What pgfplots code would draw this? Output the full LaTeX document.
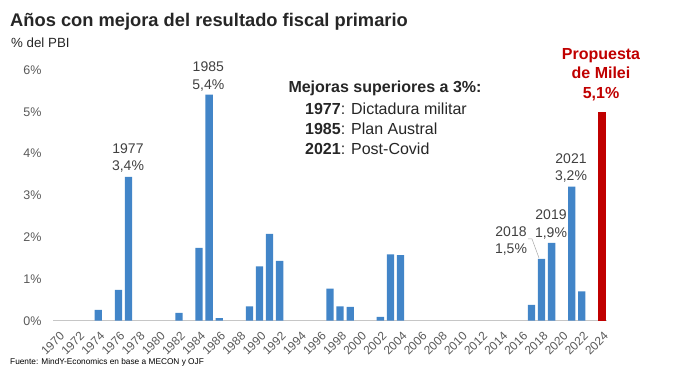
\documentclass[border=0pt]{standalone}
\usepackage{pgfplots}
\pgfplotsset{compat=1.18}
\usepackage{fontspec}
\setmainfont{Liberation Sans}
\definecolor{barblue}{RGB}{66,133,200}
\definecolor{barred}{RGB}{192,0,0}
\definecolor{txt}{HTML}{262626}
\definecolor{lbl}{HTML}{404040}
\definecolor{tick}{HTML}{595959}
\newcommand{\fs}[1]{\fontsize{#1bp}{#1bp}\selectfont}
\begin{document}
\begin{tikzpicture}
\path[use as bounding box] (0,0) rectangle (680bp,370bp);
\begin{axis}[
  at={(53bp,49.3bp)}, anchor=south west,
  scale only axis, width=554bp, height=250.7bp,
  xmin=1969.5, xmax=2024.5, ymin=0, ymax=6,
  ybar, clip=false,
  axis x line*=bottom, axis y line*=left,
  x axis line style={draw=gray!45, line width=0.8pt},
  y axis line style={draw=none},
  major tick length=0pt,
  xtick={1970,1972,...,2024},
  ytick={0,1,...,6},
  yticklabels={0\%,1\%,2\%,3\%,4\%,5\%,6\%},
  /pgf/number format/1000 sep={},
  /pgf/number format/assume math mode=true,
  xticklabel style={font=\fs{12}, text=tick, inner sep=0pt, xshift=4.2bp, yshift=-13.3bp, rotate=45, anchor=east},
  yticklabel style={font=\fs{12.5}, text=tick, inner sep=0pt, anchor=east, xshift=-11.3bp},
]
\addplot[fill=barblue, draw=none, bar width=7.3bp, bar shift=0pt] coordinates {
(1974,0.26) (1976,0.74) (1977,3.44) (1982,0.19) (1984,1.74) (1985,5.41) (1986,0.06)
(1989,0.34) (1990,1.30) (1991,2.08) (1992,1.43) (1997,0.77) (1998,0.34) (1999,0.33)
(2002,0.09) (2003,1.59) (2004,1.57) (2017,0.38) (2018,1.48) (2019,1.86) (2021,3.21) (2022,0.70)
};
\addplot[fill=barred, draw=none, bar width=7.3bp, bar shift=0pt] coordinates {(2024,5.0)};
\end{axis}
% title
\node[anchor=base west, inner sep=0pt, text=txt, font=\fs{18.3}\bfseries] at (10bp,343.3bp) {Años con mejora del resultado fiscal primario};
\node[anchor=base west, inner sep=0pt, text=txt, font=\fs{13.3}] at (11bp,322.3bp) {\% del PBI};
% data labels
\begin{scope}[every node/.style={anchor=base, inner sep=0pt, text=lbl, font=\fs{14}}]
\node at (128bp,216.7bp) {1977};
\node at (128bp,199.3bp) {3,4\%};
\node at (208.3bp,298.3bp) {1985};
\node at (208.3bp,280.7bp) {5,4\%};
\node at (571bp,206.7bp) {2021};
\node at (571bp,189.3bp) {3,2\%};
\node at (551bp,150bp) {2019};
\node at (551bp,132.7bp) {1,9\%};
\node at (511bp,133.3bp) {2018};
\node at (511bp,116bp) {1,5\%};
\end{scope}
\draw[gray!70, line width=0.5pt] (528bp,131bp) -- (532bp,131bp) -- (539bp,112bp);
% box text
\node[anchor=base, inner sep=0pt, text=txt, font=\fs{16}\bfseries] at (385bp,277.3bp) {Mejoras superiores a 3\%:};
\begin{scope}[every node/.style={anchor=base west, inner sep=0pt, text=txt, font=\fs{16}}]
\node at (305bp,255bp) {\textbf{1977}: Dictadura militar};
\node at (305bp,235bp) {\textbf{1985}: Plan Austral};
\node at (305bp,215bp) {\textbf{2021}: Post-Covid};
\end{scope}
% red
\begin{scope}[every node/.style={anchor=base, inner sep=0pt, text=barred, font=\fs{16}\bfseries}]
\node at (601bp,310bp) {Propuesta};
\node at (601bp,291.7bp) {de Milei};
\node at (601bp,271.7bp) {5,1\%};
\end{scope}
\node[anchor=base west, inner sep=0pt, text=black, font=\fs{8.3}] at (10bp,5.7bp) {Fuente: MindY-Economics en base a MECON y OJF};
\end{tikzpicture}
\end{document}
